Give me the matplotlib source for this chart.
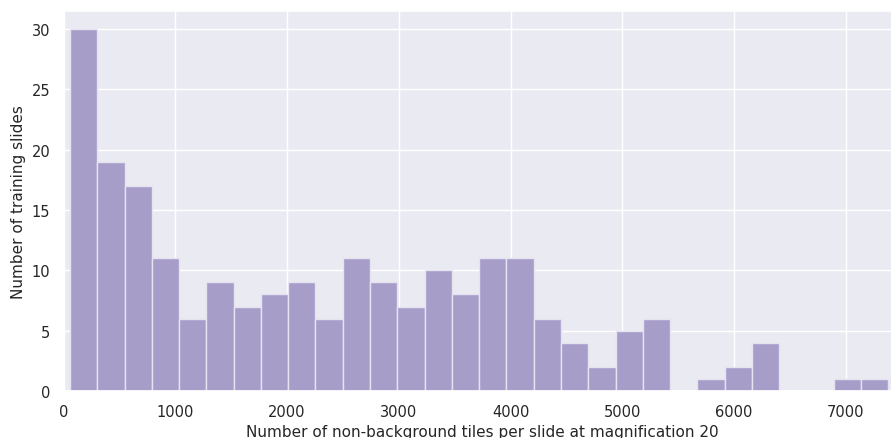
import numpy as np
import matplotlib
matplotlib.use("Agg")
import matplotlib.pyplot as plt
import seaborn as sns

# histogram: 30 bins from ~57 to ~7380 tiles
bin_start = 57
bin_end = 7380
counts = [30, 19, 17, 11, 6, 9, 7, 8, 9, 6,
          11, 9, 7, 10, 8, 11, 11, 6, 4, 2,
          5, 6, 0, 1, 2, 4, 0, 0, 1, 1]

sns.set_theme(style="darkgrid")
plt.rcParams['font.family'] = ['DejaVu Sans']

edges = np.linspace(bin_start, bin_end, len(counts) + 1)
centers = (edges[:-1] + edges[1:]) / 2

fig = plt.figure(figsize=(8.91, 4.39), dpi=100)
# the axes runs a little past the right edge of the figure, as in the reference
ax = fig.add_axes([0.0714, 0.107, 0.939, 0.866])
ax.hist(centers, bins=edges, weights=counts, color='#a69dc9',
        edgecolor='#e6e3f0', linewidth=1.0)

ax.set_xlim(0, 7487)
ax.set_ylim(0, 31.5)
ax.set_xticks([0, 1000, 2000, 3000, 4000, 5000, 6000, 7000])
ax.set_yticks([0, 5, 10, 15, 20, 25, 30])
ax.tick_params(labelsize=10.5)
ax.set_xlabel("Number of non-background tiles per slide at magnification 20", fontsize=11, labelpad=3.5)
ax.set_ylabel("Number of training slides", fontsize=11)

fig.savefig("out.png", dpi=100)
